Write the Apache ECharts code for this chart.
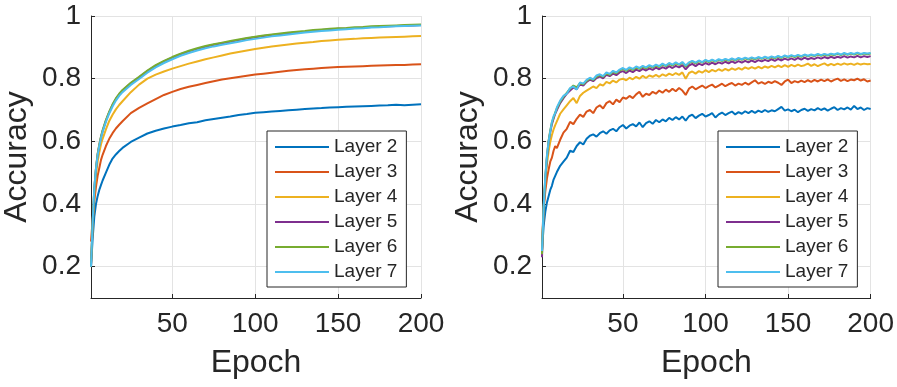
<!DOCTYPE html>
<html>
<head>
<meta charset="utf-8">
<script src="https://cdn.jsdelivr.net/npm/echarts@6/dist/echarts.min.js"></script>
<style>
html,body{margin:0;padding:0;background:#fff;}
#chart{width:897px;height:387px;}
</style>
</head>
<body>
<div id="chart"></div>
<script>
var seriesNames = ['Layer 2','Layer 3','Layer 4','Layer 5','Layer 6','Layer 7'];
var colors = ['#0072BD','#D95319','#EDB120','#7E2F8E','#77AC30','#4DBEEE'];
var xTicks = [50,100,150,200];
var yTicks = [0.2,0.4,0.6,0.8,1];

// Left panel
var leftEpochs = [1,2,3,4,5,6,7,8,10,12,14,16,18,20,25,30,35,40,45,50,55,60,65,70,75,80,85,90,95,100,105,110,115,120,125,130,135,140,145,150,155,160,165,170,175,180,185,190,195,200];
var leftL2 = [0.200,0.290,0.360,0.400,0.425,0.445,0.460,0.475,0.500,0.525,0.545,0.558,0.569,0.579,0.598,0.612,0.625,0.634,0.641,0.647,0.652,0.658,0.661,0.667,0.671,0.675,0.679,0.684,0.687,0.691,0.693,0.695,0.697,0.699,0.701,0.703,0.705,0.706,0.708,0.709,0.710,0.711,0.712,0.713,0.714,0.715,0.717,0.715,0.717,0.718];
var leftL3 = [0.280,0.350,0.410,0.455,0.490,0.515,0.540,0.557,0.585,0.608,0.626,0.641,0.653,0.664,0.690,0.707,0.721,0.735,0.748,0.758,0.767,0.774,0.780,0.786,0.792,0.797,0.801,0.805,0.809,0.813,0.816,0.819,0.822,0.825,0.828,0.830,0.832,0.834,0.836,0.837,0.838,0.839,0.840,0.841,0.842,0.843,0.844,0.844,0.845,0.846];
var leftL4 = [0.210,0.330,0.430,0.490,0.535,0.565,0.590,0.608,0.638,0.665,0.685,0.702,0.716,0.728,0.757,0.781,0.800,0.813,0.823,0.832,0.840,0.848,0.855,0.862,0.868,0.874,0.880,0.885,0.890,0.895,0.899,0.903,0.906,0.909,0.912,0.915,0.917,0.920,0.922,0.924,0.926,0.927,0.929,0.930,0.931,0.932,0.933,0.934,0.935,0.936];
var leftL5 = [0.200,0.338,0.448,0.513,0.558,0.588,0.613,0.633,0.666,0.693,0.716,0.735,0.750,0.762,0.785,0.804,0.824,0.841,0.855,0.867,0.878,0.887,0.895,0.902,0.908,0.913,0.918,0.923,0.928,0.932,0.936,0.939,0.942,0.945,0.948,0.950,0.953,0.955,0.957,0.959,0.960,0.962,0.963,0.965,0.966,0.967,0.968,0.969,0.970,0.971];
var leftL6 = [0.200,0.340,0.450,0.515,0.560,0.590,0.615,0.635,0.668,0.695,0.718,0.737,0.752,0.764,0.787,0.806,0.826,0.843,0.857,0.869,0.880,0.889,0.897,0.904,0.910,0.915,0.920,0.925,0.930,0.934,0.938,0.941,0.944,0.947,0.950,0.952,0.955,0.957,0.959,0.961,0.962,0.964,0.965,0.967,0.968,0.969,0.970,0.971,0.972,0.973];
var leftL7 = [0.200,0.345,0.452,0.512,0.555,0.585,0.610,0.630,0.662,0.689,0.711,0.730,0.745,0.757,0.780,0.799,0.819,0.836,0.850,0.862,0.873,0.882,0.890,0.897,0.903,0.908,0.913,0.918,0.923,0.927,0.931,0.935,0.938,0.941,0.944,0.947,0.950,0.952,0.954,0.956,0.958,0.960,0.961,0.963,0.964,0.966,0.967,0.968,0.969,0.970];

// Right panel
var rightEpochs = [1,2,3,4,5,6,7,8,9,10,12,14,16,18,20,22,24,26,28,30,32,34,36,38,40,42,44,46,48,50,52,54,56,58,60,62,64,66,68,70,72,74,76,78,80,82,84,86,88,90,92,94,96,98,100,102,104,106,108,110,112,114,116,118,120,122,124,126,128,130,132,134,136,138,140,142,144,146,148,150,152,154,156,158,160,162,164,166,168,170,172,174,176,178,180,182,184,186,188,190,192,194,196,198,200];
var rightL2 = [0.250,0.330,0.375,0.405,0.425,0.445,0.458,0.478,0.490,0.502,
0.522,0.535,0.548,0.570,0.566,0.585,0.597,0.590,0.608,0.618,
0.622,0.615,0.626,0.632,0.624,0.635,0.640,0.632,0.645,0.652,
0.641,0.650,0.655,0.648,0.660,0.645,0.658,0.664,0.656,0.668,
0.661,0.670,0.664,0.675,0.668,0.677,0.670,0.679,0.666,0.680,
0.685,0.674,0.682,0.688,0.679,0.684,0.690,0.676,0.686,0.692,
0.684,0.690,0.695,0.686,0.693,0.688,0.696,0.690,0.697,0.691,
0.698,0.693,0.700,0.694,0.699,0.696,0.703,0.710,0.698,0.702,
0.696,0.701,0.693,0.700,0.704,0.697,0.703,0.699,0.706,0.700,
0.705,0.698,0.704,0.709,0.700,0.706,0.702,0.708,0.701,0.713,
0.703,0.708,0.700,0.706,0.703];
var rightL3 = [0.280,0.385,0.440,0.482,0.510,0.535,0.548,0.570,0.585,0.578,
0.605,0.628,0.640,0.662,0.655,0.672,0.685,0.678,0.695,0.700,
0.690,0.708,0.715,0.705,0.722,0.728,0.718,0.733,0.725,0.740,
0.736,0.745,0.738,0.750,0.758,0.742,0.752,0.748,0.758,0.752,
0.762,0.755,0.765,0.758,0.768,0.760,0.770,0.762,0.748,0.768,
0.775,0.766,0.772,0.778,0.770,0.776,0.781,0.772,0.778,0.784,
0.776,0.782,0.786,0.778,0.784,0.780,0.787,0.781,0.788,0.795,
0.784,0.789,0.783,0.790,0.786,0.792,0.787,0.780,0.791,0.797,
0.786,0.792,0.788,0.794,0.789,0.795,0.790,0.796,0.791,0.797,
0.792,0.798,0.791,0.796,0.800,0.793,0.798,0.792,0.797,0.795,
0.800,0.794,0.798,0.791,0.794];
var rightL4 = [0.250,0.385,0.470,0.528,0.568,0.598,0.620,0.638,0.652,0.664,
0.688,0.702,0.715,0.728,0.738,0.722,0.745,0.755,0.762,0.768,
0.775,0.770,0.782,0.778,0.790,0.785,0.794,0.788,0.797,0.800,
0.795,0.803,0.798,0.806,0.800,0.809,0.802,0.810,0.806,0.812,
0.806,0.814,0.809,0.816,0.811,0.818,0.812,0.820,0.800,0.818,
0.823,0.816,0.824,0.819,0.827,0.821,0.828,0.823,0.830,0.825,
0.831,0.826,0.833,0.828,0.834,0.829,0.836,0.831,0.837,0.832,
0.838,0.833,0.839,0.835,0.841,0.836,0.842,0.837,0.843,0.838,
0.844,0.839,0.845,0.840,0.843,0.848,0.841,0.846,0.840,0.845,
0.849,0.842,0.847,0.843,0.848,0.844,0.849,0.845,0.848,0.844,
0.849,0.845,0.848,0.846,0.847];
var rightL5 = [0.230,0.385,0.480,0.548,0.598,0.630,0.655,0.672,0.688,0.700,
0.722,0.738,0.752,0.762,0.772,0.766,0.782,0.778,0.790,0.797,
0.792,0.802,0.807,0.801,0.812,0.808,0.816,0.811,0.820,0.824,
0.818,0.826,0.821,0.829,0.824,0.831,0.826,0.833,0.828,0.835,
0.830,0.837,0.832,0.840,0.834,0.841,0.836,0.843,0.830,0.842,
0.847,0.840,0.848,0.843,0.850,0.845,0.851,0.846,0.852,0.848,
0.854,0.849,0.855,0.850,0.856,0.851,0.857,0.852,0.858,0.853,
0.859,0.855,0.860,0.856,0.862,0.857,0.863,0.858,0.864,0.860,
0.865,0.860,0.866,0.861,0.867,0.862,0.866,0.863,0.868,0.864,
0.869,0.865,0.870,0.866,0.870,0.867,0.872,0.867,0.871,0.868,
0.873,0.868,0.872,0.869,0.872];
var rightL6 = [0.240,0.390,0.485,0.552,0.602,0.635,0.660,0.676,0.692,0.705,
0.726,0.742,0.755,0.768,0.778,0.772,0.786,0.782,0.793,0.800,
0.796,0.806,0.811,0.806,0.817,0.812,0.822,0.817,0.826,0.831,
0.825,0.833,0.828,0.836,0.831,0.838,0.833,0.840,0.835,0.842,
0.837,0.845,0.840,0.848,0.842,0.849,0.844,0.851,0.839,0.850,
0.855,0.849,0.856,0.851,0.858,0.853,0.859,0.854,0.860,0.856,
0.861,0.857,0.863,0.858,0.864,0.860,0.865,0.861,0.866,0.862,
0.867,0.863,0.868,0.864,0.869,0.865,0.871,0.866,0.872,0.868,
0.873,0.869,0.874,0.870,0.875,0.871,0.875,0.872,0.877,0.873,
0.877,0.874,0.878,0.875,0.879,0.875,0.880,0.876,0.880,0.877,
0.881,0.877,0.880,0.878,0.880];
var rightL7 = [0.250,0.392,0.488,0.555,0.600,0.632,0.662,0.680,0.690,0.708,
0.730,0.745,0.752,0.770,0.775,0.765,0.788,0.784,0.796,0.803,
0.798,0.810,0.814,0.808,0.820,0.815,0.825,0.820,0.829,0.834,
0.828,0.836,0.831,0.839,0.834,0.841,0.836,0.843,0.838,0.845,
0.840,0.848,0.842,0.850,0.845,0.852,0.846,0.853,0.842,0.852,
0.857,0.851,0.858,0.853,0.860,0.855,0.861,0.856,0.862,0.858,
0.863,0.859,0.865,0.860,0.866,0.862,0.867,0.863,0.868,0.864,
0.869,0.865,0.870,0.866,0.871,0.867,0.873,0.868,0.874,0.870,
0.875,0.871,0.876,0.872,0.877,0.873,0.877,0.874,0.879,0.875,
0.879,0.876,0.880,0.877,0.881,0.877,0.882,0.878,0.882,0.879,
0.883,0.879,0.882,0.880,0.882];

var leftData = [leftL2,leftL3,leftL4,leftL5,leftL6,leftL7];
var rightData = [rightL2,rightL3,rightL4,rightL5,rightL6,rightL7];

var FONT = '"Liberation Sans", Arial, Helvetica, sans-serif';
var TXT = '#262626';

function pairs(xs, ys){ return xs.map(function(x,i){ return [x, ys[i]]; }); }

function makeX(idx){
  return {
    type:'value', gridIndex:idx, min:1, max:200,
    name:'Epoch', nameLocation:'middle', nameGap:49,
    nameTextStyle:{fontFamily:FONT, fontSize:32, color:TXT},
    axisLine:{show:true, onZero:false, lineStyle:{color:TXT, width:1}},
    axisTick:{show:true, inside:true, length:4, customValues:xTicks, lineStyle:{color:TXT}},
    axisLabel:{customValues:xTicks, fontFamily:FONT, fontSize:28, color:TXT, margin:12},
    splitLine:{show:true, lineStyle:{color:'#e3e3e3', width:1}}
  };
}
function makeY(idx){
  return {
    type:'value', gridIndex:idx, min:0.1, max:1,
    name:'Accuracy', nameLocation:'middle', nameGap:58, nameRotate:90,
    nameTextStyle:{fontFamily:FONT, fontSize:32, color:TXT},
    axisLine:{show:true, onZero:false, lineStyle:{color:TXT, width:1}},
    axisTick:{show:true, inside:true, length:4, customValues:yTicks, lineStyle:{color:TXT}},
    axisLabel:{customValues:yTicks, fontFamily:FONT, fontSize:28, color:TXT, margin:10},
    splitLine:{show:true, lineStyle:{color:'#e3e3e3', width:1}}
  };
}
function makeLegend(left){
  return {
    left:left, top:131, orient:'vertical',
    data:seriesNames,
    icon:'rect',
    itemWidth:54, itemHeight:2, itemGap:3,
    padding:[5,9,4,8],
    borderColor:TXT, borderWidth:1, borderRadius:0,
    backgroundColor:'#fff',
    textStyle:{fontFamily:FONT, fontSize:19, color:TXT, lineHeight:22},
    selectedMode:false
  };
}

var series = [];
[leftData, rightData].forEach(function(set, g){
  var xs = g === 0 ? leftEpochs : rightEpochs;
  set.forEach(function(ys, i){
    series.push({
      type:'line', name:seriesNames[i], xAxisIndex:g, yAxisIndex:g,
      data:pairs(xs, ys), symbol:'none', smooth:false,
      lineStyle:{color:colors[i], width:2}, itemStyle:{color:colors[i]},
      z:2+i
    });
  });
});

var chart = echarts.init(document.getElementById('chart'), null, {renderer:'canvas'});
chart.setOption({
  animation:false,
  backgroundColor:'#fff',
  grid:[
    {left:91, top:16, width:330, height:282, containLabel:false},
    {left:542, top:16, width:330, height:282, containLabel:false}
  ],
  xAxis:[makeX(0), makeX(1)],
  yAxis:[makeY(0), makeY(1)],
  legend:[makeLegend(267), makeLegend(718)],
  series:series
});
</script>
</body>
</html>
